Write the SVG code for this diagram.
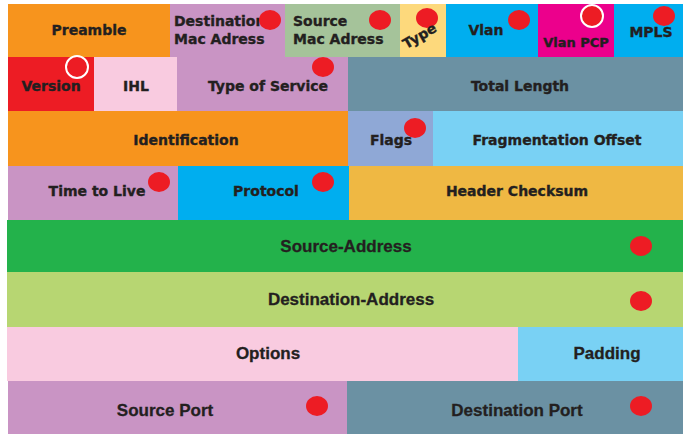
<svg xmlns="http://www.w3.org/2000/svg" width="683" height="434" viewBox="0 0 683 434">
<style>
.t{font-family:"DejaVu Sans",sans-serif;font-weight:bold;font-size:14px;fill:#231f20;stroke:#231f20;stroke-width:0.35;text-anchor:middle}
.tl{text-anchor:start}
.c{font-family:"Liberation Sans",Arial,sans-serif;font-weight:bold;font-size:17px;fill:#231f20;stroke:#231f20;stroke-width:0.3;text-anchor:middle}
.d{fill:#ed1c24}
.o{fill:#ed1c24;stroke:#ffffff;stroke-width:2}
</style>
<rect width="683" height="434" fill="#ffffff"/>
<g id="row1">
<g id="preamble"><rect x="8" y="4" width="162" height="53" fill="#f7941d"/><text class="t" x="89" y="35">Preamble</text></g>
<g id="dest-mac"><rect x="170" y="4" width="115" height="53" fill="#c994c4"/><text class="t tl" x="174" y="26">Destination</text><text class="t tl" x="174" y="44">Mac Adress</text><ellipse class="d" cx="270" cy="20" rx="11" ry="10"/></g>
<g id="src-mac"><rect x="285" y="4" width="115" height="53" fill="#a5c39a"/><text class="t tl" x="293" y="26">Source</text><text class="t tl" x="293" y="44">Mac Adress</text><ellipse class="d" cx="380" cy="20" rx="11" ry="10"/></g>
<g id="type"><rect x="400" y="4" width="46" height="53" fill="#fdd97c"/><ellipse class="d" cx="427" cy="18" rx="11" ry="10"/><text class="t" x="0" y="0" transform="translate(422,40) rotate(-30)">Type</text></g>
<g id="vlan"><rect x="446" y="4" width="92" height="53" fill="#00aeef"/><text class="t" x="486" y="35">Vlan</text><ellipse class="d" cx="519" cy="20" rx="11" ry="10"/></g>
<g id="vlan-pcp"><rect x="538" y="4" width="76" height="53" fill="#ec008c"/><text class="t" x="576" y="47" style="font-size:13px">Vlan PCP</text><circle class="o" cx="592" cy="16" r="11"/></g>
<g id="mpls"><rect x="614" y="4" width="69" height="53" fill="#00aeef"/><text class="t" x="651" y="37">MPLS</text><ellipse class="d" cx="664" cy="16" rx="11" ry="10"/></g>
</g>
<g id="row2">
<g id="version"><rect x="8" y="57" width="86" height="54" fill="#ed1c24"/><text class="t" x="51" y="91">Version</text><circle class="o" cx="77" cy="67" r="11"/></g>
<g id="ihl"><rect x="94" y="57" width="83" height="54" fill="#f9cbe0"/><text class="t" x="136" y="91">IHL</text></g>
<g id="tos"><rect x="177" y="57" width="171" height="54" fill="#c994c4"/><text class="t" x="268" y="91">Type of Service</text><ellipse class="d" cx="323" cy="67" rx="11" ry="10"/></g>
<g id="total-length"><rect x="348" y="57" width="335" height="54" fill="#6b91a3"/><text class="t" x="520" y="91">Total Length</text></g>
</g>
<g id="row3">
<g id="identification"><rect x="8" y="111" width="340" height="55" fill="#f7941d"/><text class="t" x="186" y="145">Identification</text></g>
<g id="flags"><rect x="348" y="111" width="85" height="55" fill="#8fa8d6"/><text class="t" x="391" y="145">Flags</text><ellipse class="d" cx="415" cy="128" rx="11" ry="10"/></g>
<g id="frag-offset"><rect x="433" y="111" width="250" height="55" fill="#79d1f4"/><text class="t" x="557" y="145">Fragmentation Offset</text></g>
</g>
<g id="row4">
<g id="ttl"><rect x="8" y="166" width="170" height="54" fill="#c994c4"/><text class="t" x="97" y="196">Time to Live</text><ellipse class="d" cx="159" cy="182" rx="11" ry="10"/></g>
<g id="protocol"><rect x="178" y="166" width="171" height="54" fill="#00aeef"/><text class="t" x="266" y="196">Protocol</text><ellipse class="d" cx="323" cy="182" rx="11" ry="10"/></g>
<g id="checksum"><rect x="349" y="166" width="334" height="54" fill="#efb843"/><text class="t" x="517" y="196">Header Checksum</text></g>
</g>
<g id="row5">
<g id="source-address"><rect x="7" y="220" width="676" height="52" fill="#23b24b"/><text class="c" x="346" y="252">Source-Address</text><ellipse class="d" cx="641" cy="246" rx="11" ry="10"/></g>
</g>
<g id="row6">
<g id="destination-address"><rect x="7" y="272" width="676" height="55" fill="#b7d672"/><text class="c" x="351" y="305">Destination-Address</text><ellipse class="d" cx="641" cy="301" rx="11" ry="10"/></g>
</g>
<g id="row7">
<g id="options"><rect x="7" y="327" width="511" height="54" fill="#f9cbe0"/><text class="c" x="268" y="359">Options</text></g>
<g id="padding"><rect x="518" y="327" width="165" height="54" fill="#79d1f4"/><text class="c" x="607" y="359">Padding</text></g>
</g>
<g id="row8">
<g id="source-port"><rect x="8" y="381" width="339" height="53" fill="#c994c4"/><text class="c" x="165" y="416">Source Port</text><ellipse class="d" cx="317" cy="406" rx="11" ry="10"/></g>
<g id="destination-port"><rect x="347" y="381" width="336" height="53" fill="#6b91a3"/><text class="c" x="517" y="416">Destination Port</text><ellipse class="d" cx="641" cy="406" rx="11" ry="10"/></g>
</g>
<g id="connectors"/>
</svg>
